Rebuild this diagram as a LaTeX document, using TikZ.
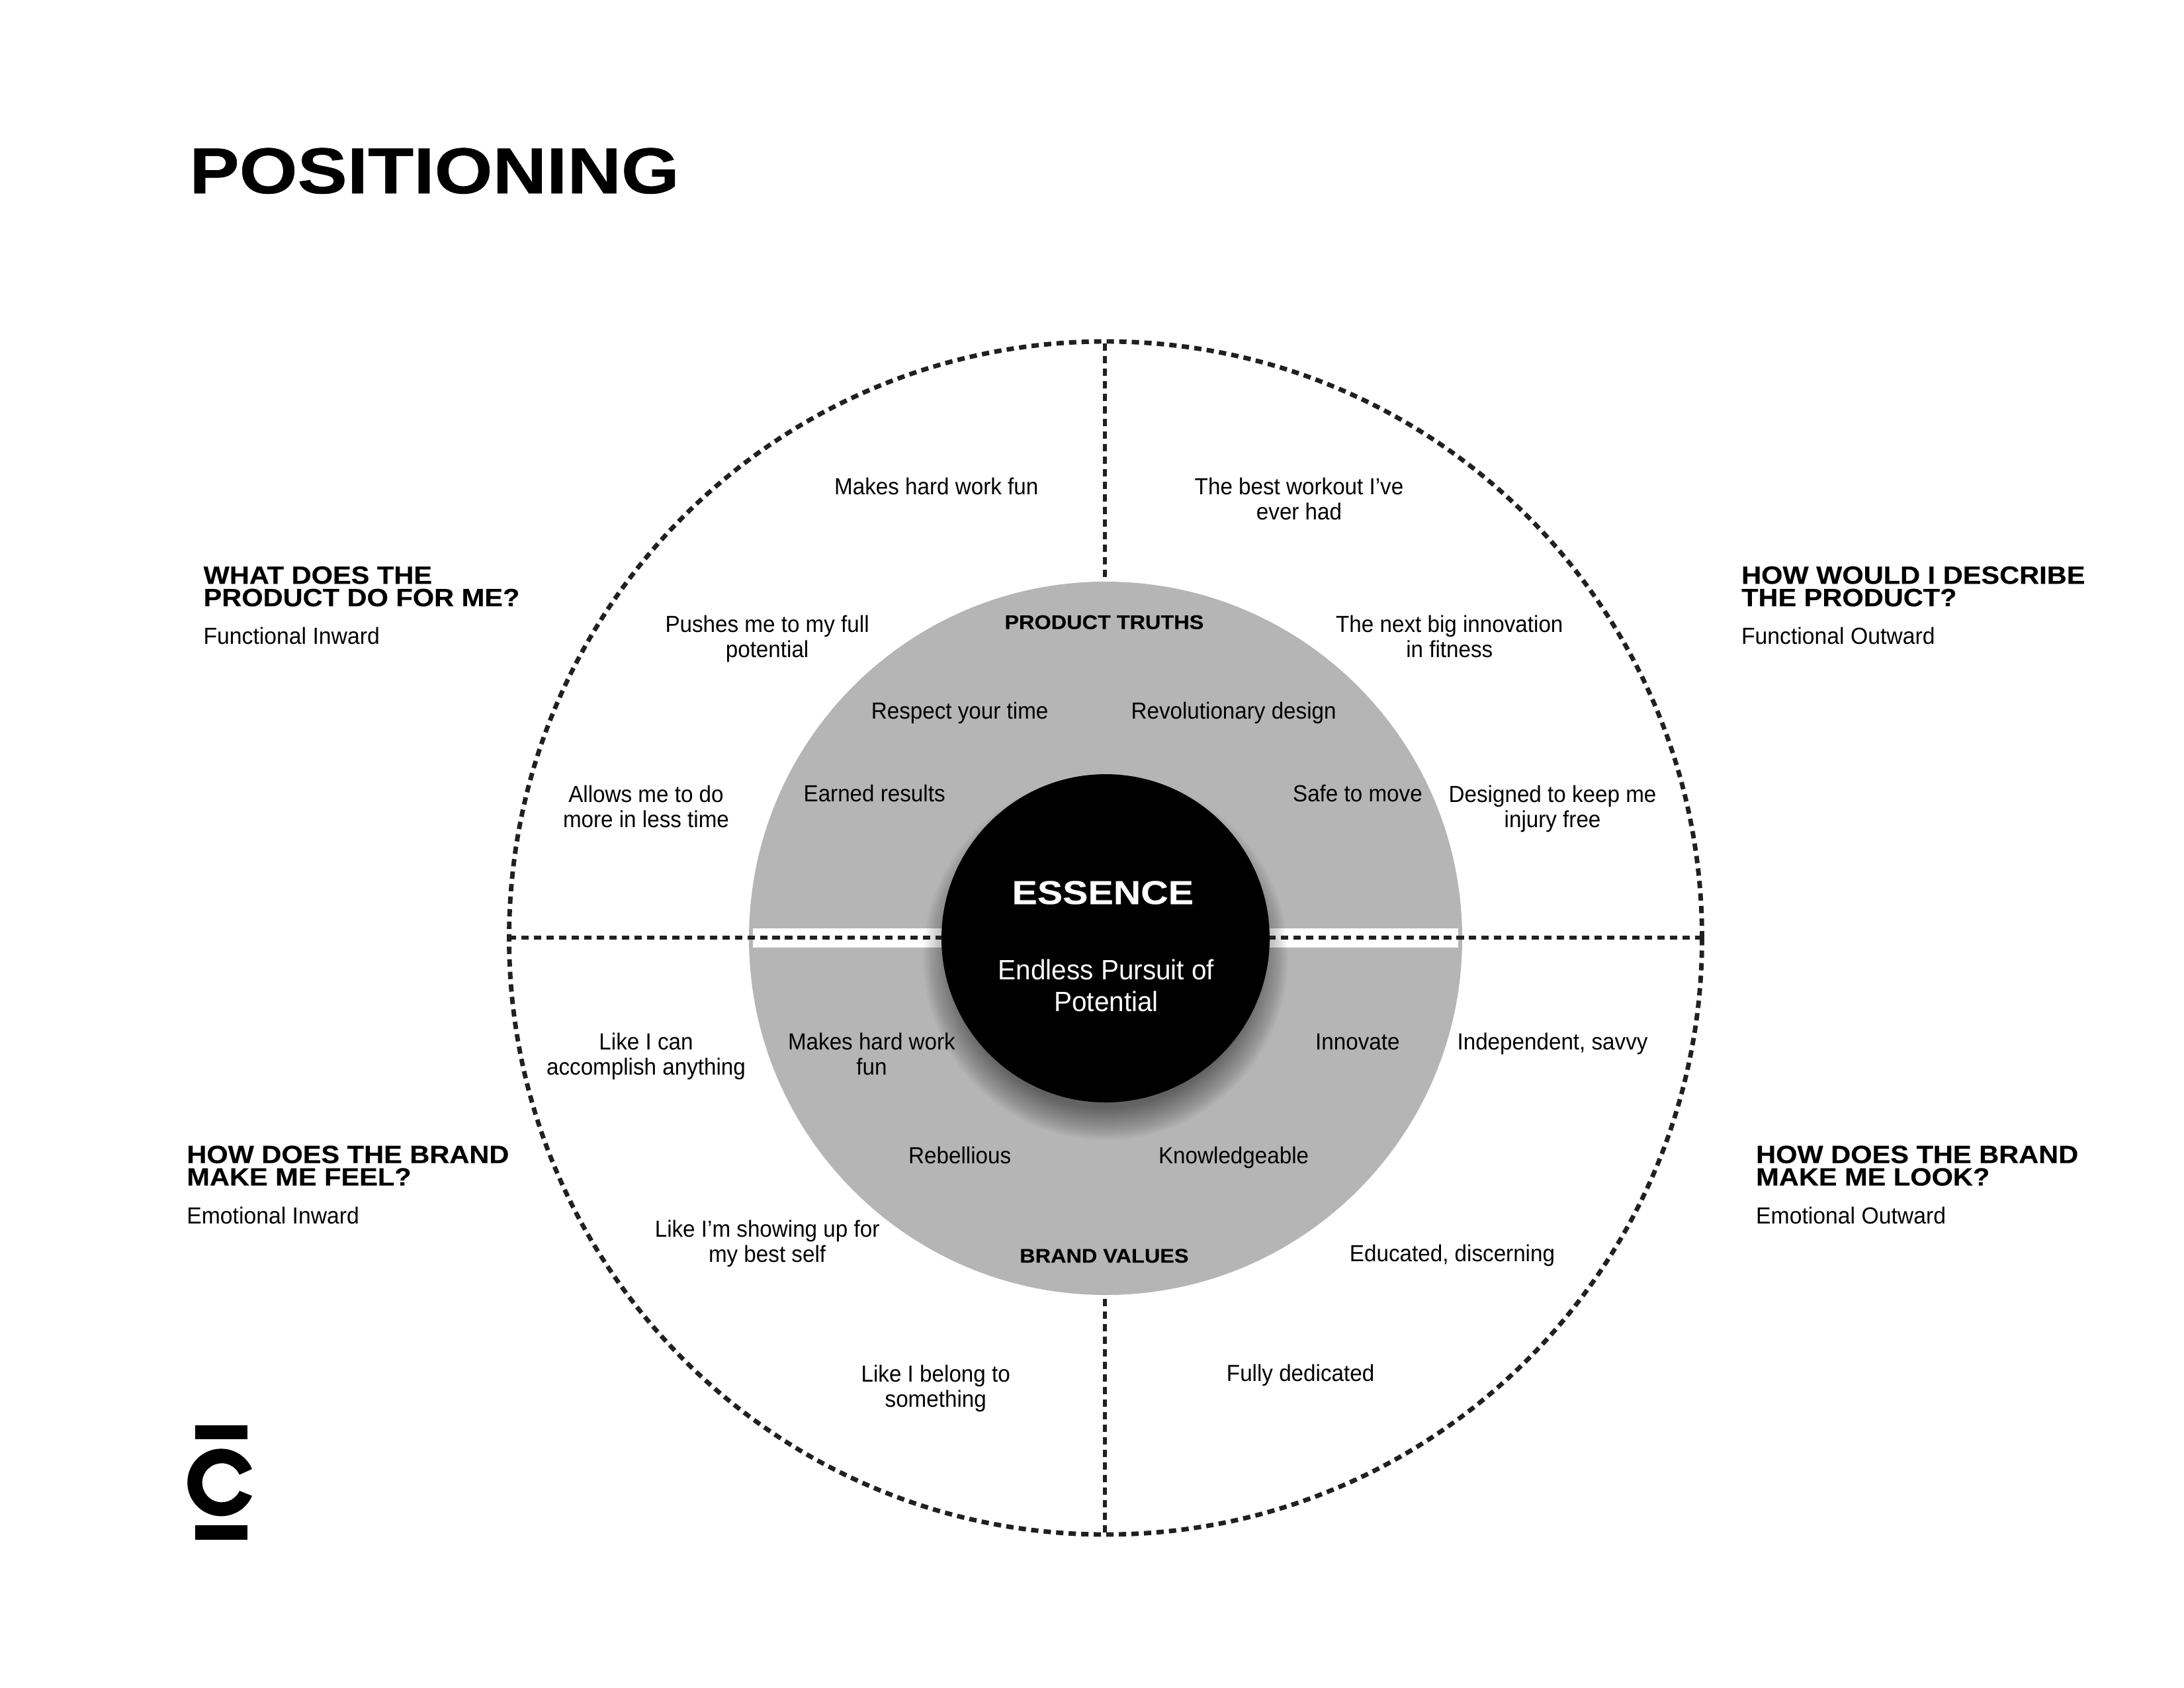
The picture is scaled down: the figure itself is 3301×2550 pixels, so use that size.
\documentclass[tikz,border=0pt]{standalone}
\usepackage{fontspec}
\setmainfont{Liberation Sans}
\newfontfamily\bodyf[FakeStretch=0.945]{Liberation Sans}
\newfontfamily\subf[FakeStretch=0.96]{Liberation Sans}
\newfontfamily\titlef[FakeStretch=1.154,FakeBold=0.6]{Liberation Sans}
\newfontfamily\headf[FakeStretch=1.1,FakeBold=0.3]{Liberation Sans}
\newfontfamily\ringf[FakeStretch=1.086,FakeBold=0.3]{Liberation Sans}
\newfontfamily\essf[FakeStretch=1.147,FakeBold=0.3]{Liberation Sans}
\definecolor{ink}{HTML}{231F20}
\definecolor{disc}{HTML}{B5B5B5}
\newcommand\capline{\rule{0pt}{14.3pt}}
\tikzset{
  dotline/.style={draw=ink,line width=3.9pt,dash pattern=on 6.3pt off 4.5pt},
  body/.style={inner sep=0pt,align=center,text=black,text depth=0pt,execute at begin node=\capline,font=\bodyf\fontsize{20}{21.6}\selectfont},
  head/.style={inner sep=0pt,anchor=north west,align=left,text=black,font=\headf\bfseries\fontsize{21.5}{19.3}\selectfont},
  sub/.style={inner sep=0pt,anchor=west,text=black,text depth=0pt,execute at begin node=\capline,font=\subf\fontsize{20}{21.6}\selectfont},
  ring/.style={inner sep=0pt,text=black,font=\ringf\bfseries\fontsize{17}{20}\selectfont},
}
\begin{document}
\begin{tikzpicture}[x=0.02cm,y=-0.02cm]
\useasboundingbox (0,0) rectangle (3301,2550);
\coordinate (c) at (1671,1417.5);
% gray disc and white bands
\fill[disc] (1671,1418) circle[radius=539];
\fill[white] (1138,1403) rectangle (2204,1432);
% shadow
\foreach \r in {226,228,...,276}{
  \fill[black,opacity=0.02] (1671,1447) circle[radius=\r];
}
% outer circle and connectors
\coordinate (top) at (1670,519);
\coordinate (toptruth) at (1670,878);
\coordinate (bot) at (1670,2316);
\coordinate (botbrand) at (1670,1957);
\coordinate (lft) at (769,1417);
\coordinate (lin) at (1423,1417);
\coordinate (rgt) at (2573,1417);
\coordinate (rin) at (1919,1417);
\draw[dotline] (c) circle[radius=901.5];
\draw[dotline] (top) -- (toptruth);
\draw[dotline] (bot) -- (botbrand);
\draw[dotline] (lft) -- (lin);
\draw[dotline] (rgt) -- (rin);
% centre
\node (core) [circle,fill=black,minimum size=282.3pt,inner sep=0pt] at (1671,1418) {};
% logo
\fill[black] (295,2154) rectangle (374,2175);
\fill[black] (295,2305) rectangle (374,2327);
\fill[black] (381,2220) arc[start angle=-23.5,end angle=-336.5,radius=51] -- (362,2253)
  arc[start angle=24.4,end angle=335.6,radius=29.5] -- cycle;
\node (title) [inner sep=0pt,anchor=base west,text=black,font=\titlef\bfseries\fontsize{55.7}{60}\selectfont] at (286,292) {POSITIONING};
\begin{scope}[x=0.0421cm,y=-0.0421cm]
\node (o1) [body] at (672.5,349) {Makes hard work fun};
\node (o2) [body] at (933,358) {The best workout I’ve\\ever had};
\node (o3) [body] at (551,457) {Pushes me to my full\\potential};
\node (o4) [body] at (1041,457) {The next big innovation\\in fitness};
\node (o5) [body] at (464,579) {Allows me to do\\more in less time};
\node (o6) [body] at (1115,579) {Designed to keep me\\injury free};
\node (o7) [body] at (464,757) {Like I can\\accomplish anything};
\node (o8) [body] at (1115,747.7) {Independent, savvy};
\node (o9) [body] at (551,891.3) {Like I’m showing up for\\my best self};
\node (o10) [body] at (1043,899.6) {Educated, discerning};
\node (o11) [body] at (672,995.3) {Like I belong to\\something};
\node (o12) [body] at (934,985.7) {Fully dedicated};
\node (r1) [ring] at (793,446.8) {PRODUCT TRUTHS};
\node (r2) [ring] at (793,901.8) {BRAND VALUES};
\node (i1) [body] at (689.3,510) {Respect your time};
\node (i2) [body] at (886,510) {Revolutionary design};
\node (i3) [body] at (628,569.5) {Earned results};
\node (i4) [body] at (975,569.5) {Safe to move};
\node (i5) [body] at (626,757) {Makes hard work\\fun};
\node (i6) [body] at (975,747.7) {Innovate};
\node (i7) [body] at (689.3,829.6) {Rebellious};
\node (i8) [body] at (886,829.6) {Knowledgeable};
\node (ess) [inner sep=0pt,text=white,font=\essf\bfseries\fontsize{28.5}{30}\selectfont] at (792,641) {ESSENCE};
\node (pur) [inner sep=0pt,align=center,text=white,font=\subf\fontsize{24}{27.5}\selectfont] at (794.5,707.8) {Endless Pursuit of\\Potential};
\node (h1) [head] at (146,406.5) {WHAT DOES THE\\PRODUCT DO FOR ME?};
\node (s1) [sub] at (146,456.5) {Functional Inward};
\node (h2) [head] at (1250.5,406.5) {HOW WOULD I DESCRIBE\\THE PRODUCT?};
\node (s2) [sub] at (1250.5,456.5) {Functional Outward};
\node (h3) [head] at (134,822.5) {HOW DOES THE BRAND\\MAKE ME FEEL?};
\node (s3) [sub] at (134,872.7) {Emotional Inward};
\node (h4) [head] at (1261,822.5) {HOW DOES THE BRAND\\MAKE ME LOOK?};
\node (s4) [sub] at (1261,872.7) {Emotional Outward};
\end{scope}
\end{tikzpicture}
\end{document}
